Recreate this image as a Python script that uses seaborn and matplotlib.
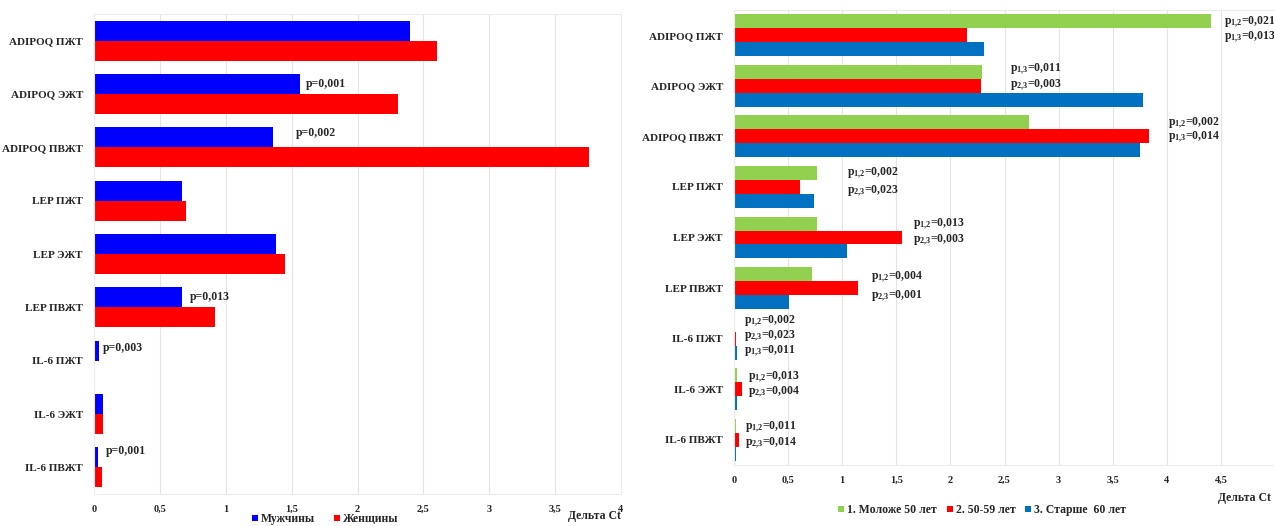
import matplotlib
matplotlib.use('Agg')
import matplotlib.pyplot as plt
from matplotlib.lines import Line2D
import seaborn as sns
import pandas as pd

categories = ['ADIPOQ ПЖТ', 'ADIPOQ ЭЖТ', 'ADIPOQ ПВЖТ', 'LEP ПЖТ', 'LEP ЭЖТ',
              'LEP ПВЖТ', 'IL-6 ПЖТ', 'IL-6 ЭЖТ', 'IL-6 ПВЖТ']

# left chart: by sex
sex_groups = ['Мужчины', 'Женщины']
men_values = [2.40, 1.56, 1.36, 0.67, 1.38, 0.67, 0.04, 0.07, 0.03]
women_values = [2.60, 2.31, 3.76, 0.70, 1.45, 0.92, 0.01, 0.07, 0.06]
sex_pvalues = ['', 'p=0,001', 'p=0,002', '', '', 'p=0,013', 'p=0,003', '', 'p=0,001']

# right chart: by age
age_groups = ['1. Моложе 50 лет', '2. 50-59 лет', '3. Старше  60 лет']
under50_values = [4.41, 2.29, 2.73, 0.77, 0.77, 0.72, 0.01, 0.03, 0.02]
age50_59_values = [2.15, 2.28, 3.84, 0.61, 1.55, 1.15, 0.02, 0.07, 0.05]
over60_values = [2.31, 3.78, 3.75, 0.74, 1.04, 0.51, 0.03, 0.03, 0.02]
age_pvalues = [
    [('1,2', '0,021'), ('1,3', '0,013')],
    [('1,3', '0,011'), ('2,3', '0,003')],
    [('1,2', '0,002'), ('1,3', '0,014')],
    [('1,2', '0,002'), ('2,3', '0,023')],
    [('1,2', '0,013'), ('2,3', '0,003')],
    [('1,2', '0,004'), ('2,3', '0,001')],
    [('1,2', '0,002'), ('2,3', '0,023'), ('1,3', '0,011')],
    [('1,2', '0,013'), ('2,3', '0,004')],
    [('1,2', '0,011'), ('2,3', '0,014')],
]

x_ticks = [0, 0.5, 1, 1.5, 2, 2.5, 3, 3.5, 4, 4.5]

# annotation placement (x in data units, y offset from category centre)
sex_p_x = [0, 1.61, 1.53, 0, 0, 0.73, 0.07, 0, 0.09]
sex_p_dy = [0, -0.18, -0.26, 0, 0, -0.19, -0.23, 0, -0.30]
age_p_x = [4.53, 2.55, 4.01, 1.04, 1.65, 1.27, 0.09, 0.13, 0.10]
age_p_dy = [-0.26, -0.32, -0.26, -0.28, -0.26, -0.22, -0.34, -0.24, -0.24]
age_p_step = [0.29, 0.30, 0.28, 0.36, 0.32, 0.38, 0.29, 0.30, 0.30]

sns.set_style('white')
plt.rcParams['font.family'] = ['Liberation Serif', 'DejaVu Serif']
plt.rcParams['font.weight'] = 'bold'
plt.rcParams['mathtext.fontset'] = 'custom'
plt.rcParams['mathtext.rm'] = 'Liberation Serif:bold'
plt.rcParams['mathtext.it'] = 'Liberation Serif:bold'
plt.rcParams['mathtext.bf'] = 'Liberation Serif:bold'

sex_df = pd.DataFrame({
    'category': categories * 2,
    'value': men_values + women_values,
    'group': [sex_groups[0]] * 9 + [sex_groups[1]] * 9,
})
age_df = pd.DataFrame({
    'category': categories * 3,
    'value': under50_values + age50_59_values + over60_values,
    'group': [age_groups[0]] * 9 + [age_groups[1]] * 9 + [age_groups[2]] * 9,
})

sex_colors = ['#0000FF', '#FF0000']
age_colors = ['#92D050', '#FF0000', '#0070C0']

W, H = 1274, 526
fig = plt.figure(figsize=(W / 100, H / 100), dpi=100)
ax1 = fig.add_axes([94 / W, (H - 494) / H, 527 / W, 480 / H])
ax2 = fig.add_axes([734 / W, (H - 465) / H, 541 / W, 455 / H])


def style_axis(ax, xmax):
    ax.set_xlim(0, xmax)
    ax.set_ylim(len(categories) - 0.5, -0.5)
    ax.set_xticks([t for t in x_ticks if t <= xmax])
    ax.set_xticklabels([('%g' % t).replace('.', ',') for t in x_ticks if t <= xmax], fontsize=7.5)
    ax.tick_params(axis='y', labelsize=8, pad=8, length=0)
    ax.tick_params(axis='x', length=0, pad=8)
    ax.grid(axis='x', color='#e4e4e4', linewidth=0.8)
    ax.set_axisbelow(True)
    for s in ax.spines.values():
        s.set_color('#ececec')
        s.set_linewidth(0.8)
    ax.set_xlabel('')
    ax.set_ylabel('')


sns.barplot(data=sex_df, y='category', x='value', hue='group', palette=sex_colors,
            orient='h', width=0.75, linewidth=0, saturation=1, legend=False, ax=ax1)
style_axis(ax1, 4)
for i, p in enumerate(sex_pvalues):
    if p:
        ax1.text(sex_p_x[i], i + sex_p_dy[i], p, fontsize=8.5, va='center', ha='left')

sns.barplot(data=age_df, y='category', x='value', hue='group', palette=age_colors,
            orient='h', width=0.83, linewidth=0, saturation=1, legend=False, ax=ax2)
style_axis(ax2, 5)
for i, plist in enumerate(age_pvalues):
    for k, (sub, val) in enumerate(plist):
        label = 'p$_{%s}$=%s' % (sub.replace(',', '{,}'), val)
        ax2.text(age_p_x[i], i + age_p_dy[i] + k * age_p_step[i], label,
                 fontsize=8.5, va='center', ha='left', clip_on=False)


def square_handles(colors):
    return [Line2D([], [], marker='s', linestyle='', markersize=4.5,
                   markerfacecolor=c, markeredgewidth=0) for c in colors]


fig.legend(square_handles(sex_colors), sex_groups, loc='center',
           bbox_to_anchor=(325 / W, 1 - 519 / H), ncol=2, frameon=False,
           fontsize=8.5, handlelength=0.6, handletextpad=0.2, columnspacing=1.6)
fig.legend(square_handles(age_colors), age_groups, loc='center',
           bbox_to_anchor=(982 / W, 1 - 510 / H), ncol=3, frameon=False,
           fontsize=8.5, handlelength=0.6, handletextpad=0.2, columnspacing=0.8)

fig.text(568 / W, 1 - 516 / H, 'Дельта Ct', fontsize=8.5, va='center', ha='left')
fig.text(1271 / W, 1 - 498 / H, 'Дельта Ct', fontsize=8.5, va='center', ha='right')

fig.savefig('out.png', dpi=100, facecolor='white')
